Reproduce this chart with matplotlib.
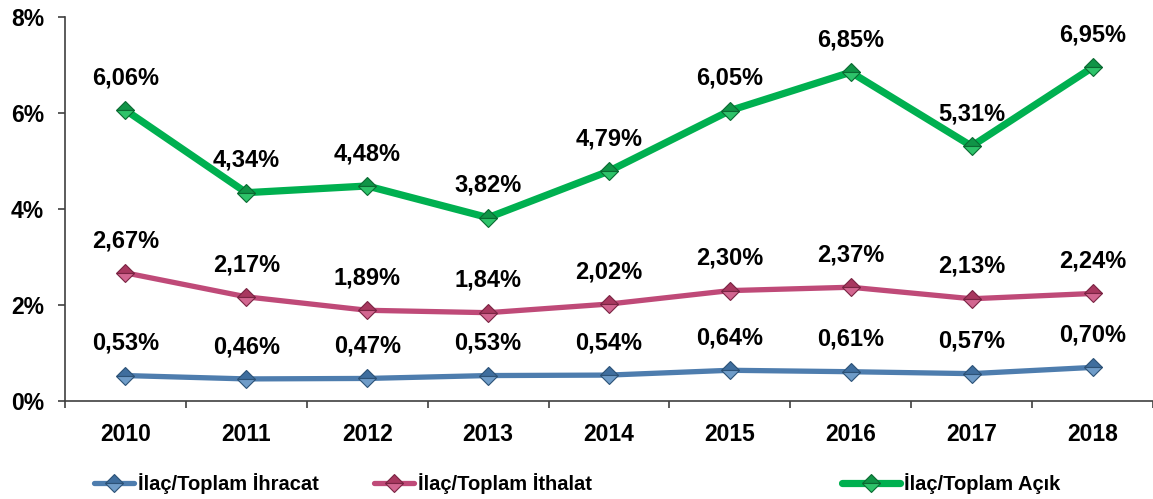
import matplotlib
matplotlib.use("Agg")
import matplotlib.pyplot as plt
from matplotlib import font_manager
from matplotlib.ticker import FuncFormatter

plt.rcParams['font.family'] = ['Liberation Sans', 'DejaVu Sans']
plt.rcParams['font.weight'] = 'bold'

installed = {f.name for f in font_manager.fontManager.ttflist}
if 'Liberation Sans Narrow' in installed:
    legend_family, legend_size = ['Liberation Sans Narrow'], 17
else:
    legend_family, legend_size = ['Liberation Sans'], 14.5

years = ['2010', '2011', '2012', '2013', '2014', '2015', '2016', '2017', '2018']
ihracat = [0.53, 0.46, 0.47, 0.53, 0.54, 0.64, 0.61, 0.57, 0.70]
ithalat = [2.67, 2.17, 1.89, 1.84, 2.02, 2.30, 2.37, 2.13, 2.24]
acik = [6.06, 4.34, 4.48, 3.82, 4.79, 6.05, 6.85, 5.31, 6.95]

series_names = ['İlaç/Toplam İhracat', 'İlaç/Toplam İthalat', 'İlaç/Toplam Açık']
line_colors = ['#4E7DAE', '#BF4A78', '#00B050']
face_colors = ['#3F6E9E', '#A8385F', '#109447']
alt_colors = ['#6F9CC8', '#D26690', '#2EC36A']
edge_colors = ['#2C5277', '#7A2443', '#0A6A32']
line_widths = [3.8, 3.8, 5.2]

fig = plt.figure(figsize=(11.53, 4.99), dpi=100)
ax = fig.add_axes([65 / 1153, 98 / 499, 1 - 65 / 1153, (482 - 98) / 499])

x = list(range(len(years)))
handles = []
for vals, lc, fc, ac, ec, lw in zip([ihracat, ithalat, acik], line_colors,
                                    face_colors, alt_colors, edge_colors, line_widths):
    h, = ax.plot(x, vals, color=lc, lw=lw, marker='D', markersize=9,
                 markerfacecolor=fc, markerfacecoloralt=ac, fillstyle='top',
                 markeredgecolor=ec, markeredgewidth=0.8, zorder=3,
                 solid_capstyle='round')
    handles.append(h)
    for xi, v in zip(x, vals):
        ax.annotate(f"{v:.2f}%".replace('.', ','), (xi, v), xytext=(0, 15),
                    textcoords='offset points', ha='center', va='bottom',
                    fontsize=17, fontweight='bold', color='black')

ax.set_xlim(-0.5, len(years) - 0.5)
ax.set_ylim(0, 8)
ax.set_yticks([0, 2, 4, 6, 8])
ax.yaxis.set_major_formatter(FuncFormatter(lambda v, p: f"{v:.0f}%"))
ax.set_xticks(x)
ax.set_xticklabels(years)
ax.set_xticks([i - 0.5 for i in range(len(years) + 1)], minor=True)
ax.tick_params(axis='x', which='major', length=0, pad=16, labelsize=16.5)
ax.tick_params(axis='x', which='minor', length=5, width=1.2, color='#404040')
ax.tick_params(axis='y', length=5, width=1.2, color='#404040', pad=10, labelsize=16.5)
for lbl in ax.get_xticklabels() + ax.get_yticklabels():
    lbl.set_fontweight('bold')

for s in ['top', 'right']:
    ax.spines[s].set_visible(False)
for s in ['left', 'bottom']:
    ax.spines[s].set_color('#404040')
    ax.spines[s].set_linewidth(1.2)

# legend entries placed individually along the bottom
legend_x = [94 / 1153, 374 / 1153, 842 / 1153]
hlens = [2.0, 2.0, 2.9]
for h, name, lx, hl in zip(handles, series_names, legend_x, hlens):
    fig.legend(handles=[h], labels=[name], loc='center left',
               bbox_to_anchor=(lx, 0.03), frameon=False, handlelength=hl,
               handletextpad=0.2, borderpad=0, borderaxespad=0,
               prop={'size': legend_size, 'weight': 'bold', 'family': legend_family})

fig.savefig('out.png', dpi=100)
